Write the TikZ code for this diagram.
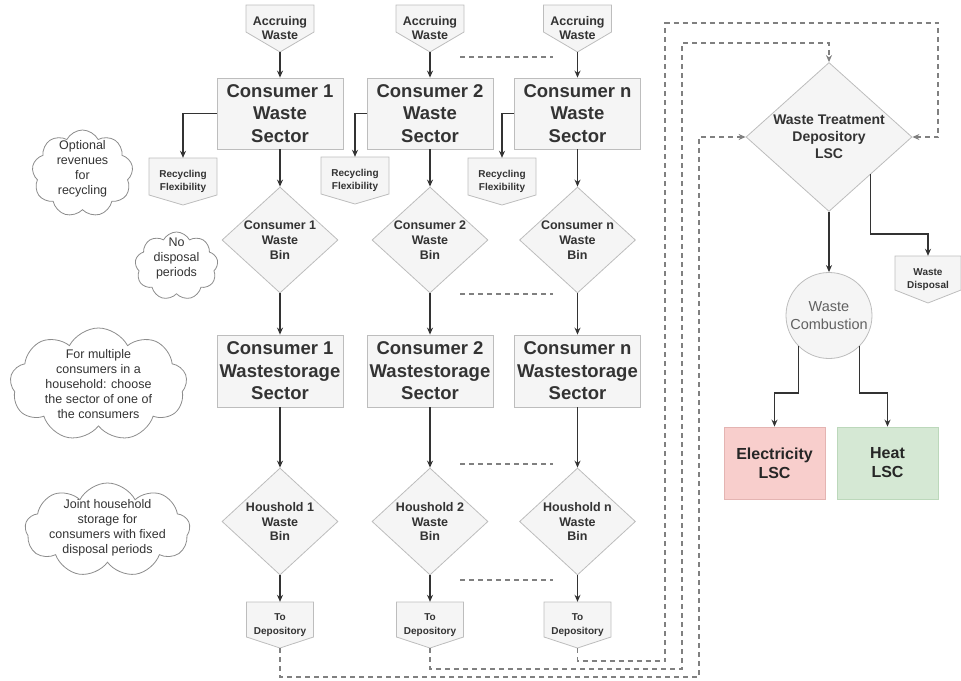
\documentclass[tikz,border=0pt]{standalone}
\usepackage{fontspec}
\setmainfont{Liberation Sans}
\usetikzlibrary{shapes.geometric,shapes.symbols,arrows.meta,calc}
\definecolor{fillg}{HTML}{F5F5F5}
\definecolor{strk}{HTML}{BDBDBD}
\definecolor{txt}{HTML}{333333}
\definecolor{lnk}{HTML}{333333}
\definecolor{dsh}{HTML}{808080}
\definecolor{cldl}{HTML}{8C8C8C}
\definecolor{redf}{HTML}{F8CECC}
\definecolor{redl}{HTML}{E4B4B2}
\definecolor{grnf}{HTML}{D5E8D4}
\definecolor{grnl}{HTML}{BCD8BB}
\newcommand\offpg[8]{%
  \draw[draw=strk, fill=fillg, line width=0.8pt] ({#2-#4/2},#3) -- ({#2+#4/2},#3) -- ({#2+#4/2},{#3+#5}) -- (#2,{#3+#5+#6}) -- ({#2-#4/2},{#3+#5}) -- cycle;
  \node[offtxt, font=#8, minimum width=#4pt, minimum height={#5+#6}] (#1) at (#2,{#3+(#5+#6)/2}) {#7};
  \coordinate (#1tip) at (#2,{#3+#5+#6});
}
\newcommand\ztxt[2]{\makebox[0pt]{\raisebox{#1}[0pt][0pt]{\begin{tabular}{@{}c@{}}#2\end{tabular}}}}
\begin{document}
\begin{tikzpicture}[x=1pt,y=-1pt,
  box/.style={draw=strk, fill=fillg, text=txt, font=\fontsize{18.5}{22.4}\selectfont\bfseries, align=center, minimum width=126pt, minimum height=71pt, inner sep=0pt, line width=0.8pt},
  dia/.style={diamond, draw=strk, fill=fillg, text=txt, font=\fontsize{12.5}{14.7}\selectfont\bfseries, align=center, minimum width=116pt, minimum height=106pt, inner sep=-3pt, line width=0.8pt},
  offtxt/.style={text=txt, align=center, inner sep=0pt},
  cld/.style={cloud, cloud puffs=9, cloud puff arc=125, cloud ignores aspect, draw=cldl, fill=white, line width=0.8pt, inner sep=0pt, text=txt, font=\fontsize{12.5}{15}\selectfont},
  conn/.style={draw=lnk, line width=1.2pt, -{Stealth[length=7pt,width=6pt]}},
  dashc/.style={draw=dsh, line width=1.2pt, dash pattern=on 5pt off 4pt},
  dasha/.style={dashc, -{Stealth[length=7pt,width=6pt]}},
  lsc/.style={minimum width=101pt, minimum height=72pt, inner sep=0pt, align=center, text=black!85, font=\fontsize{16}{19}\selectfont\bfseries, line width=0.8pt}
]
\useasboundingbox (0,0) rectangle (961,680);

% accruing waste
\offpg{a1}{280}{5}{68}{27}{20}{Accruing\\Waste}{\fontsize{12.5}{14}\selectfont\bfseries}
\offpg{a2}{430}{5}{68}{27}{20}{Accruing\\Waste}{\fontsize{12.5}{14}\selectfont\bfseries}
\offpg{an}{577.5}{5}{68}{27}{20}{Accruing\\Waste}{\fontsize{12.5}{14}\selectfont\bfseries}

% waste sectors
\node[box] (s1) at (280,113.5) {Consumer 1\\Waste\\Sector};
\node[box] (s2) at (430,113.5) {Consumer 2\\Waste\\Sector};
\node[box] (sn) at (577.5,113.5) {Consumer n\\Waste\\Sector};

% recycling
\offpg{r1}{183}{158}{68}{37}{10}{Recycling\\Flexibility}{\fontsize{10}{12.7}\selectfont\bfseries}
\offpg{r2}{355}{157}{68}{37}{10}{Recycling\\Flexibility}{\fontsize{10}{12.7}\selectfont\bfseries}
\offpg{rn}{502}{158}{68}{37}{10}{Recycling\\Flexibility}{\fontsize{10}{12.7}\selectfont\bfseries}

% waste bins
\node[dia] (b1) at (280,240) {Consumer 1\\Waste\\Bin};
\node[dia] (b2) at (430,240) {Consumer 2\\Waste\\Bin};
\node[dia] (bn) at (577.5,240) {Consumer n\\Waste\\Bin};

% wastestorage
\node[box, minimum height=72pt] (w1) at (280,371) {Consumer 1\\Wastestorage\\Sector};
\node[box, minimum height=72pt] (w2) at (430,371) {Consumer 2\\Wastestorage\\Sector};
\node[box, minimum height=72pt] (wn) at (577.5,371) {Consumer n\\Wastestorage\\Sector};

% household bins
\node[dia, minimum height=107pt] (h1) at (280,521.5) {Houshold 1\\Waste\\Bin};
\node[dia, minimum height=107pt] (h2) at (430,521.5) {Houshold 2\\Waste\\Bin};
\node[dia, minimum height=107pt] (hn) at (577.5,521.5) {Houshold n\\Waste\\Bin};

% to depository
\offpg{d1}{280}{602}{67}{35}{11}{To\\Depository}{\fontsize{10}{13.3}\selectfont\bfseries}
\offpg{d2}{430}{602}{67}{35}{11}{To\\Depository}{\fontsize{10}{13.3}\selectfont\bfseries}
\offpg{dn}{577.5}{602}{67}{35}{11}{To\\Depository}{\fontsize{10}{13.3}\selectfont\bfseries}

% right side
\node[dia, minimum width=166pt, minimum height=149pt, inner sep=-7pt, font=\fontsize{14}{17}\selectfont\bfseries] (wt) at (829,137) {Waste Treatment\\Depository\\LSC};
\node[circle, draw=strk, fill=fillg, minimum size=86pt, inner sep=0pt, align=center, text=black!62, font=\fontsize{14.5}{18}\selectfont, line width=0.8pt] (wc) at (829,315.5) {Waste\\Combustion};
\offpg{wd}{928}{256}{66}{34}{13}{Waste\\Disposal}{\fontsize{10}{12.7}\selectfont\bfseries}
\node[lsc, draw=redl, fill=redf] (el) at (774.5,463) {Electricity\\LSC};
\node[lsc, draw=grnl, fill=grnf] (ht) at (887.5,463) {Heat\\LSC};

% clouds
\node[cld, minimum width=101pt, minimum height=87pt] (c1) at (82.5,173.5) {\ztxt{0.1em}{Optional\\revenues\\for\\recycling}};
\node[cld, minimum width=83pt, minimum height=68pt] (c2) at (176.5,266) {\ztxt{0.35em}{No\\disposal\\periods}};
\node[cld, minimum width=177pt, minimum height=113pt] (c3) at (98.5,384.5) {\ztxt{-0.3em}{For multiple\\consumers in a\\household: choose\\the sector of one of\\the consumers}};
\node[cld, minimum width=165pt, minimum height=94pt] (c4) at (107.5,530) {\ztxt{-0.1em}{Joint household\\storage for\\consumers with fixed\\disposal periods}};

% solid connectors
\foreach \c in {1,2,n}{
  \draw[conn] (a\c tip) -- (s\c.north);
  \draw[conn] (s\c.west) -| (r\c.north);
  \draw[conn] (s\c.south) -- (b\c.north);
  \draw[conn] (b\c.south) -- (w\c.north);
  \draw[conn] (w\c.south) -- (h\c.north);
  \draw[conn] (h\c.south) -- (d\c.north);
}
\draw[conn] (wt.south) -- (wc.north);
\coordinate (wtx) at ($(wt.south)!0.5!(wt.east)$);
\draw[conn] (wtx) -- (wtx |- 0,234) -| (wd.north);
\draw[conn] (wc.south west) -- (wc.south west |- 0,393) -| (el.north);
\draw[conn] (wc.south east) -- (wc.south east |- 0,393) -| (ht.north);

% dashed separators
\draw[dashc] (460,57) -- (553,57);
\draw[dashc] (460,294) -- (553,294);
\draw[dashc] (460,464) -- (553,464);
\draw[dashc] (460,580) -- (553,580);

% dashed connectors to depository
\draw[dasha] (d1tip) -- (d1tip |- 0,677) -- (699,677) |- (wt.west);
\draw[dasha] (d2tip) -- (d2tip |- 0,669) -| (682,43) -| (wt.north);
\draw[dasha] (dntip) -- (dntip |- 0,661) -| (665,23) -| (938,137) -- (wt.east);
\end{tikzpicture}
\end{document}
